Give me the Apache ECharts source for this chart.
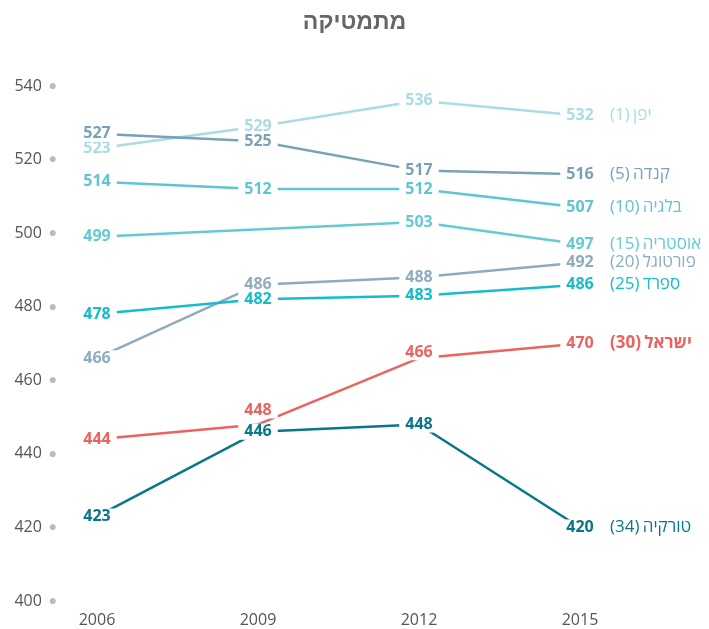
<!DOCTYPE html>
<html>
<head>
<meta charset="utf-8">
<script src="https://cdn.jsdelivr.net/npm/echarts@6/dist/echarts.min.js"></script>
<style>
  html, body { margin: 0; padding: 0; background: #fff; }
  #chart { width: 709px; height: 629px; }
</style>
</head>
<body>
<div id="chart"></div>
<script>
const years = ['2006', '2009', '2012', '2015']

// country names with their rank
const countries = ['יפן', 'קנדה', 'בלגיה', 'אוסטריה', 'פורטוגל', 'ספרד', 'ישראל', 'טורקיה']
const ranks = [1, 5, 10, 15, 20, 25, 30, 34]

const japan = [523, 529, 536, 532]
const canada = [527, 525, 517, 516]
const belgium = [514, 512, 512, 507]
const austria = [499, null, 503, 497]
const portugal = [466, 486, 488, 492]
const spain = [478, 482, 483, 486]
const israel = [444, 448, 466, 470]
const turkey = [423, 446, 448, 420]

const seriesValues = [japan, canada, belgium, austria, portugal, spain, israel, turkey]
const colors = ['#a9dde2', '#7aa2b6', '#5ec5d1', '#66cad4', '#8eacbe', '#16bccb', '#ec625e', '#08778a']

const font = '"Open Sans", "Liberation Sans", sans-serif'

const chart = echarts.init(document.getElementById('chart'))

const series = seriesValues.map((values, i) => {
  const isIsrael = countries[i] === 'ישראל'
  const data = values.map((v, j) => {
    // a few labels are nudged to keep them apart
    if (isIsrael && j === 1) return { value: v, label: { offset: [0, -14] } }
    if (isIsrael && j === 2) return { value: v, label: { offset: [0, -6] } }
    return v
  })
  return {
    type: 'line',
    name: countries[i],
    data: data,
    connectNulls: true,
    symbol: 'circle',
    symbolSize: 0.1,
    showSymbol: true,
    lineStyle: { color: colors[i], width: 2.5 },
    itemStyle: { color: colors[i] },
    label: {
      show: true,
      position: 'inside',
      color: colors[i],
      fontFamily: font,
      fontWeight: 'bold',
      fontSize: 16,
      backgroundColor: '#fff',
      padding: [0, 6]
    },
    endLabel: {
      show: true,
      distance: 30,
      formatter: () => '{r|(' + ranks[i] + ')} {n|' + countries[i] + '}',
      rich: {
        r: { color: colors[i], fontSize: 17, fontFamily: font, fontWeight: isIsrael ? 'bold' : 'normal' },
        n: { color: colors[i], fontSize: 17, fontFamily: font, fontWeight: isIsrael ? 'bold' : 'normal' }
      }
    }
  }
})

chart.setOption({
  animation: false,
  backgroundColor: '#fff',
  title: {
    text: 'מתמטיקה',
    left: 'center',
    top: 6,
    textStyle: { color: '#666', fontSize: 23, fontWeight: 'bold', fontFamily: '"Liberation Sans", "DejaVu Sans", sans-serif' }
  },
  grid: { left: 97, right: 129, top: 86, bottom: 28 },
  xAxis: {
    type: 'category',
    data: years,
    boundaryGap: false,
    axisLine: { show: false },
    axisTick: { show: false },
    axisLabel: { color: '#555', fontSize: 16, fontFamily: font, margin: 11 }
  },
  yAxis: {
    type: 'value',
    min: 400,
    max: 540,
    interval: 20,
    splitLine: { show: false },
    axisLine: { show: false },
    axisTick: { show: false },
    axisLabel: {
      margin: 40,
      formatter: v => '{a|' + v + '}  {d|●}',
      rich: {
        a: { color: '#555', fontSize: 16, fontFamily: font },
        d: { color: '#bbb', fontSize: 14 }
      }
    }
  },
  series: series
})

window.addEventListener('resize', () => chart.resize())
</script>
</body>
</html>
